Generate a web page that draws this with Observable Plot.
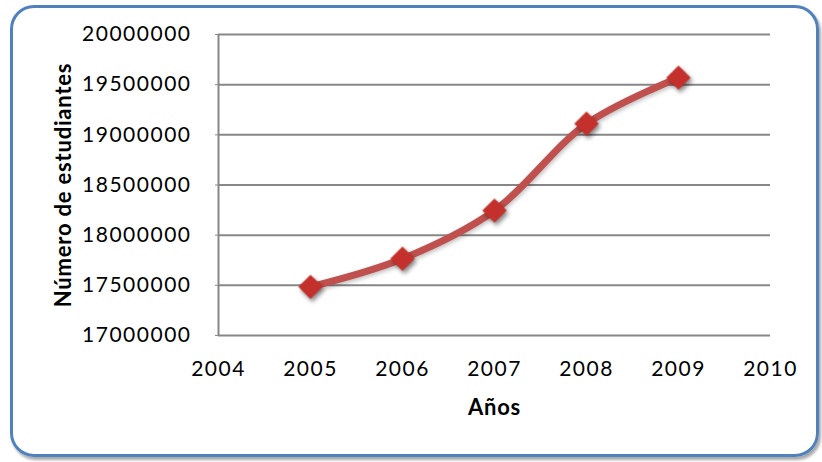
<!DOCTYPE html>
<html>
<head>
<meta charset="utf-8">
<script src="https://cdn.jsdelivr.net/npm/d3@7"></script>
<script src="https://cdn.jsdelivr.net/npm/@observablehq/plot@0.6"></script>
<style>
  html, body { margin: 0; padding: 0; background: #fff; }
  #wrap { position: relative; width: 822px; height: 462px; overflow: hidden; }
  #box { position: absolute; left: 10px; top: 5px; width: 803px; height: 446px;
         border: 3px solid #4f81bd; border-radius: 24px;
         box-shadow: 2px 3px 3px rgba(0,0,0,0.35); pointer-events: none; }
  #chart { position: absolute; left: 0; top: 0; }
  svg g[aria-label="dot"] { filter: drop-shadow(2px 3px 2px rgba(0,0,0,0.45)); }
  svg g[aria-label="line"] { filter: drop-shadow(1px 2px 2px rgba(0,0,0,0.25)); }
  svg g[aria-label="y-axis tick label"] text, svg g[aria-label="x-axis tick label"] text { letter-spacing: 1.5px; }
  svg g[aria-label="text"] text { letter-spacing: 0.8px; }
</style>
</head>
<body>
<div id="wrap"><div id="box"></div><div id="chart"></div></div>
<script>
const years = [2005, 2006, 2007, 2008, 2009];
const students = [17485000, 17765000, 18245000, 19110000, 19570000];
const xTicks = [2004, 2005, 2006, 2007, 2008, 2009, 2010];
const yTicks = [17000000, 17500000, 18000000, 18500000, 19000000, 19500000, 20000000];
const xTitle = "Años";
const yTitle = "Número de estudiantes";

const data = years.map((y, i) => ({year: y, value: students[i]}));

const chart = Plot.plot({
  width: 822,
  height: 462,
  marginLeft: 218,
  marginRight: 52,
  marginTop: 34,
  marginBottom: 127,
  style: {fontFamily: "Lato, 'Open Sans', sans-serif", fontSize: "21px", color: "#000", background: "transparent"},
  x: {domain: [2004, 2010]},
  y: {domain: [17000000, 20000000]},
  marks: [
    Plot.gridY(yTicks, {stroke: "#878787", strokeOpacity: 1, strokeWidth: 2}),
    Plot.ruleX([2004], {stroke: "#878787", strokeWidth: 2}),
    Plot.axisY(yTicks, {tickFormat: d => String(d), tickSize: 3, tickPadding: 24, stroke: "#878787", fontSize: 21, label: null}),
    Plot.axisX(xTicks, {tickFormat: d => String(d), tickSize: 0, tickPadding: 26, fontSize: 21, label: null}),
    Plot.text([xTitle], {frameAnchor: "bottom", dy: 79, text: d => d, fontWeight: "bold", fontSize: 22, fill: "#000"}),
    Plot.text([yTitle], {frameAnchor: "left", dx: -155, rotate: -90, textAnchor: "middle", text: d => d, fontWeight: "bold", fontSize: 22, fill: "#000"}),
    Plot.line(data, {x: "year", y: "value", curve: "catmull-rom", stroke: "#c0504d", strokeWidth: 7}),
    Plot.dot(data, {x: "year", y: "value", symbol: "diamond2", r: 11, fill: "#c4302b", stroke: "none"})
  ]
});
document.getElementById("chart").appendChild(chart);
</script>
</body>
</html>
